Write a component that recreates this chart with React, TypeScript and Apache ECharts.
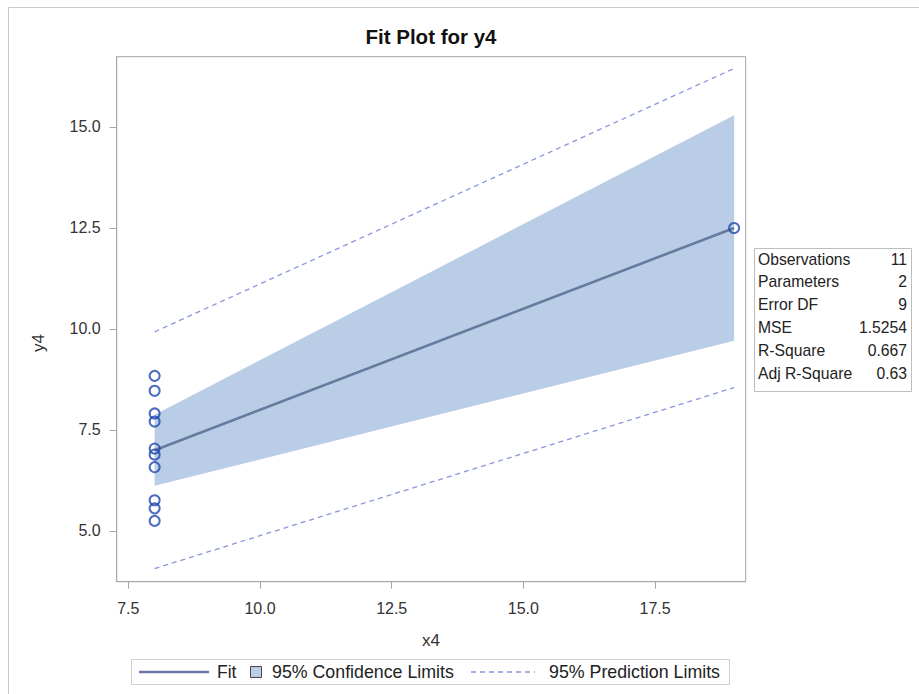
import React, { useEffect, useRef } from "react";
import * as echarts from "echarts";

// Observations (Anscombe set 4)
const xObs = [8, 8, 8, 8, 8, 8, 8, 19, 8, 8, 8];
const yObs = [6.58, 5.76, 7.71, 8.84, 8.47, 7.04, 5.25, 12.5, 5.56, 7.91, 6.89];

// Fit line and limits, evaluated at the distinct x values
const bandX = [8, 19];
const fitY = [7.0, 12.5];
const clLower = [6.12, 9.71];
const clUpper = [7.88, 15.29];
const plLower = [4.07, 8.55];
const plUpper = [9.93, 16.45];

// Tick values
const xTicks = [7.5, 10, 12.5, 15, 17.5];
const yTicks = [5, 7.5, 10, 12.5, 15];

// Fit statistics
const statLabels = ["Observations", "Parameters", "Error DF", "MSE", "R-Square", "Adj R-Square"];
const statValues = ["11", "2", "9", "1.5254", "0.667", "0.63"];

const FONT = "'Liberation Sans', Arial, Helvetica, sans-serif";
const BAND = "#B9CDE6";
const FIT = "#667A9F";
const PRED = "#8896DC";
const MARK = "#1F47AC";
const AXIS = "#A6A6A6";
const TXT = "#333333";

export default function App() {
  const ref = useRef<HTMLDivElement>(null);

  useEffect(() => {
    if (!ref.current) return;
    const chart = echarts.init(ref.current, null, { renderer: "svg" });

    const pair = (ys: number[]) => bandX.map((x, i) => [x, ys[i]]);

    const statGraphics: any[] = [];
    statLabels.forEach((lab, i) => {
      const y = 259 + i * 22.8;
      statGraphics.push({
        type: "text",
        x: 758,
        y,
        style: { text: lab, font: `15.7px ${FONT}`, fill: "#222", textVerticalAlign: "middle", textAlign: "left" },
      });
      statGraphics.push({
        type: "text",
        x: 907,
        y,
        style: { text: statValues[i], font: `15.7px ${FONT}`, fill: "#222", textVerticalAlign: "middle", textAlign: "right" },
      });
    });

    const option: any = {
      animation: false,
      backgroundColor: "#ffffff",
      grid: {
        left: 116.7,
        top: 56.7,
        width: 629,
        height: 525,
        show: true,
        borderColor: AXIS,
        borderWidth: 1,
        backgroundColor: "transparent",
      },
      xAxis: {
        type: "value",
        min: 7.28,
        max: 19.22,
        axisLine: { show: true, onZero: false, lineStyle: { color: AXIS, width: 1 } },
        axisTick: { show: true, length: 7, customValues: xTicks, lineStyle: { color: AXIS } },
        axisLabel: {
          customValues: xTicks,
          margin: 19,
          color: TXT,
          fontSize: 16,
          fontFamily: FONT,
          formatter: (v: number) => v.toFixed(1),
        },
        splitLine: { show: false },
      },
      yAxis: {
        type: "value",
        min: 3.745,
        max: 16.74,
        axisLine: { show: true, onZero: false, lineStyle: { color: AXIS, width: 1 } },
        axisTick: { show: true, length: 7, customValues: yTicks, lineStyle: { color: AXIS } },
        axisLabel: {
          customValues: yTicks,
          margin: 16,
          color: TXT,
          fontSize: 16,
          fontFamily: FONT,
          formatter: (v: number) => v.toFixed(1),
        },
        splitLine: { show: false },
      },
      series: [
        {
          type: "custom",
          name: "95% Confidence Limits",
          data: [0],
          silent: true,
          z: 1,
          renderItem: (_params: any, api: any) => {
            const pts: number[][] = [];
            bandX.forEach((x, i) => pts.push(api.coord([x, clUpper[i]])));
            for (let i = bandX.length - 1; i >= 0; i--) pts.push(api.coord([bandX[i], clLower[i]]));
            return { type: "polygon", shape: { points: pts }, style: { fill: BAND, stroke: "none" } };
          },
        },
        {
          type: "line",
          name: "Fit",
          data: pair(fitY),
          showSymbol: false,
          z: 3,
          lineStyle: { color: FIT, width: 2.6 },
        },
        {
          type: "line",
          name: "95% Prediction Limits",
          data: pair(plLower),
          showSymbol: false,
          z: 3,
          lineStyle: { color: PRED, width: 1.3, type: [5, 4] },
        },
        {
          type: "line",
          name: "95% Prediction Limits",
          data: pair(plUpper),
          showSymbol: false,
          z: 3,
          lineStyle: { color: PRED, width: 1.3, type: [5, 4] },
        },
        {
          type: "scatter",
          name: "Observations",
          data: xObs.map((x, i) => [x, yObs[i]]),
          symbol: "circle",
          symbolSize: 10,
          z: 5,
          itemStyle: { color: "transparent", borderColor: MARK, borderWidth: 2 },
        },
      ],
      graphic: [
        {
          type: "rect",
          z: -10,
          shape: { x: 8.5, y: 7.5, width: 940, height: 720 },
          style: { fill: "none", stroke: "#C9C9C9", lineWidth: 1 },
        },
        {
          type: "text",
          x: 431,
          y: 36,
          style: {
            text: "Fit Plot for y4",
            font: `bold 20.5px ${FONT}`,
            fill: "#111",
            textAlign: "center",
            textVerticalAlign: "middle",
          },
        },
        {
          type: "text",
          x: 431,
          y: 640,
          style: { text: "x4", font: `17px ${FONT}`, fill: TXT, textAlign: "center", textVerticalAlign: "middle" },
        },
        {
          type: "text",
          x: 38,
          y: 343,
          rotation: Math.PI / 2,
          style: { text: "y4", font: `17px ${FONT}`, fill: TXT, textAlign: "center", textVerticalAlign: "middle" },
        },
        // stats table
        {
          type: "rect",
          shape: { x: 754.5, y: 248.5, width: 157, height: 143 },
          style: { fill: "#fff", stroke: "#BDBDBD", lineWidth: 1 },
        },
        ...statGraphics,
        // legend
        {
          type: "rect",
          shape: { x: 131.5, y: 659.5, width: 598, height: 25 },
          style: { fill: "#fff", stroke: "#CFCFCF", lineWidth: 1 },
        },
        {
          type: "line",
          shape: { x1: 139, y1: 672, x2: 209, y2: 672 },
          style: { stroke: FIT, lineWidth: 2.6 },
        },
        {
          type: "text",
          x: 217,
          y: 672,
          style: { text: "Fit", font: `17.5px ${FONT}`, fill: "#222", textVerticalAlign: "middle" },
        },
        {
          type: "rect",
          shape: { x: 250.5, y: 666.5, width: 11, height: 11 },
          style: { fill: BAND, stroke: "#444", lineWidth: 1 },
        },
        {
          type: "text",
          x: 272,
          y: 672,
          style: { text: "95% Confidence Limits", font: `17.8px ${FONT}`, fill: "#222", textVerticalAlign: "middle" },
        },
        {
          type: "line",
          shape: { x1: 471, y1: 672, x2: 535, y2: 672 },
          style: { stroke: PRED, lineWidth: 1.3, lineDash: [5, 4] },
        },
        {
          type: "text",
          x: 549,
          y: 672,
          style: { text: "95% Prediction Limits", font: `17.8px ${FONT}`, fill: "#222", textVerticalAlign: "middle" },
        },
      ],
    };

    chart.setOption(option);
    return () => chart.dispose();
  }, []);

  return (
    <div
      ref={ref}
      style={{ position: "absolute", left: 0, top: 0, width: 919, height: 694, background: "#fff" }}
    />
  );
}
